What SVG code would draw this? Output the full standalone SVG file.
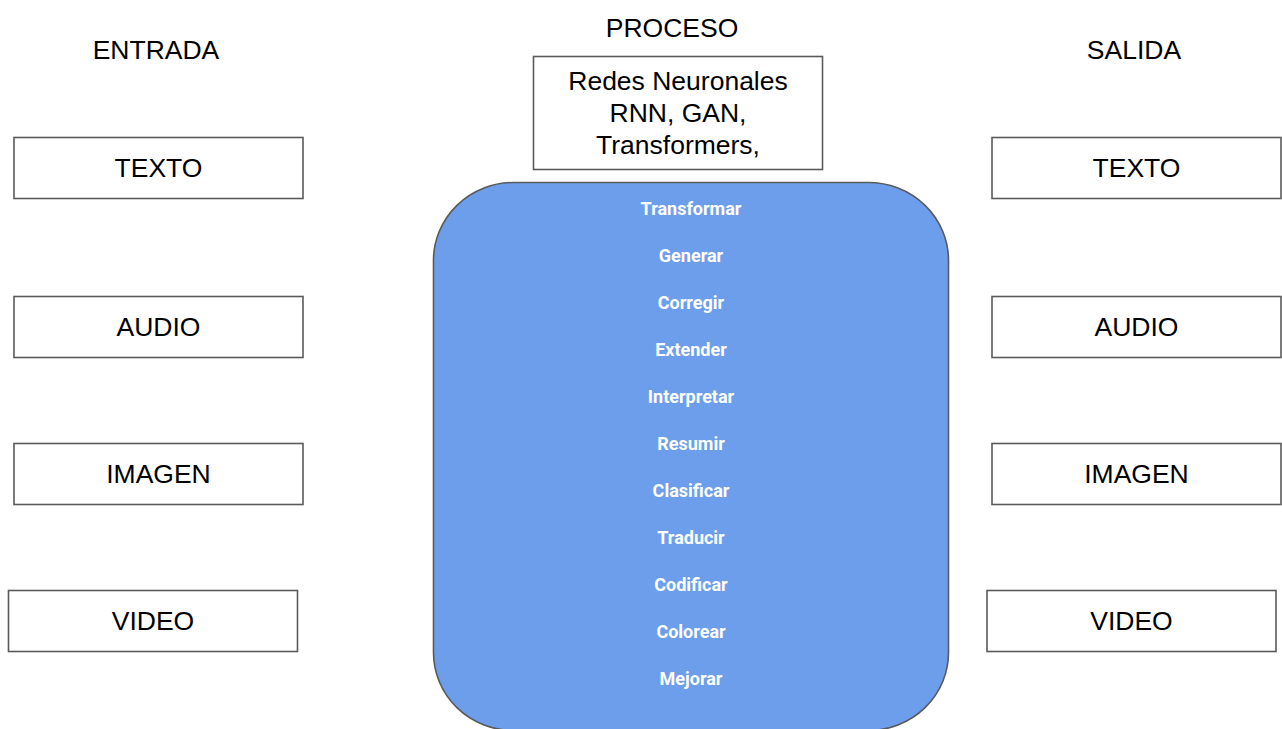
<svg xmlns="http://www.w3.org/2000/svg" width="1282" height="729" viewBox="0 0 1282 729">
<style>
.box{fill:#fff;stroke:#5a5a5a;stroke-width:1.6}
.lbl{font-family:"Liberation Sans",Arial,sans-serif;font-size:26.5px;fill:#000;text-anchor:middle}
.op{font-family:Roboto,"Liberation Sans",sans-serif;font-weight:bold;font-size:18px;fill:#fff;text-anchor:middle}
</style>
<rect width="1282" height="729" fill="#fff"/>
<g id="headers">
<text class="lbl" x="156" y="59">ENTRADA</text>
<text class="lbl" x="672" y="37">PROCESO</text>
<text class="lbl" x="1134" y="59">SALIDA</text>
</g>
<g id="in-texto"><rect class="box" x="14" y="137.5" width="289" height="61"/><text class="lbl" x="158.5" y="177">TEXTO</text></g>
<g id="in-audio"><rect class="box" x="14" y="296.5" width="289" height="61"/><text class="lbl" x="158.5" y="336">AUDIO</text></g>
<g id="in-imagen"><rect class="box" x="14" y="443.5" width="289" height="61"/><text class="lbl" x="158.5" y="483">IMAGEN</text></g>
<g id="in-video"><rect class="box" x="8.5" y="590.5" width="289" height="61"/><text class="lbl" x="153" y="630">VIDEO</text></g>
<g id="out-texto"><rect class="box" x="992" y="137.5" width="289" height="61"/><text class="lbl" x="1136.5" y="177">TEXTO</text></g>
<g id="out-audio"><rect class="box" x="992" y="296.5" width="289" height="61"/><text class="lbl" x="1136.5" y="336">AUDIO</text></g>
<g id="out-imagen"><rect class="box" x="992" y="443.5" width="289" height="61"/><text class="lbl" x="1136.5" y="483">IMAGEN</text></g>
<g id="out-video"><rect class="box" x="987" y="590.5" width="289" height="61"/><text class="lbl" x="1131.5" y="630">VIDEO</text></g>
<g id="redes"><rect class="box" x="533.5" y="56.5" width="289" height="113"/>
<text class="lbl" x="678" y="90">Redes Neuronales</text>
<text class="lbl" x="678" y="122">RNN, GAN,</text>
<text class="lbl" x="678" y="154">Transformers,</text>
</g>
<g id="proceso">
<rect x="433.5" y="182.5" width="515" height="548" rx="80" ry="78" fill="#6d9eeb" stroke="#5a5a5a" stroke-width="1.6"/>
<text class="op" x="691" y="214.5">Transformar</text>
<text class="op" x="691" y="261.5">Generar</text>
<text class="op" x="691" y="308.5">Corregir</text>
<text class="op" x="691" y="355.5">Extender</text>
<text class="op" x="691" y="402.5">Interpretar</text>
<text class="op" x="691" y="449.5">Resumir</text>
<text class="op" x="691" y="496.5">Clasificar</text>
<text class="op" x="691" y="543.5">Traducir</text>
<text class="op" x="691" y="590.5">Codificar</text>
<text class="op" x="691" y="637.5">Colorear</text>
<text class="op" x="691" y="684.5">Mejorar</text>
</g>
<g id="connectors"/>
</svg>
